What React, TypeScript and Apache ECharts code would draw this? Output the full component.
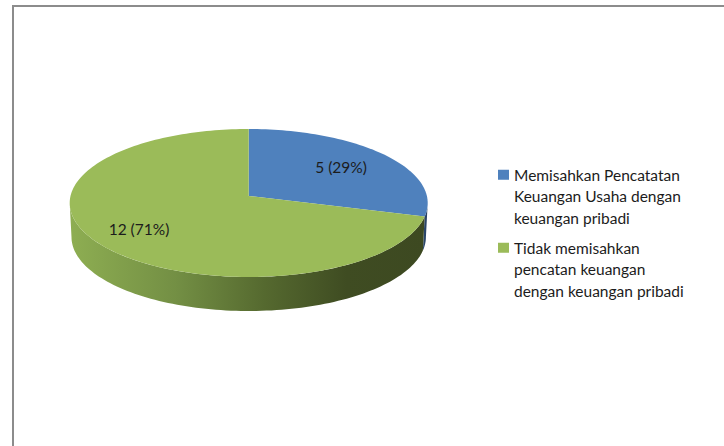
import React, { useEffect, useRef } from "react";
import * as echarts from "echarts";

const categories = [
  "Memisahkan Pencatatan\nKeuangan Usaha dengan\nkeuangan pribadi",
  "Tidak memisahkan\npencatan keuangan\ndengan keuangan pribadi",
];
const sliceValues = [5, 12];
const sliceLabels = ["5 (29%)", "12 (71%)"];
const topColors = ["#4f81bd", "#9bbb59"];

const FONT = "Lato";
const CX = 248.7;
const CY = 203;
const RX = 179;
const RY = 74;
const DEPTH = 34;
const TILT = -0.0946; // apex sits above the ellipse centre (perspective)
const labelAnchors = [
  { x: 341, y: 167 },
  { x: 139, y: 229 },
];
const wallFills = [
  {
    type: "linear", x: 0, y: 0, x2: 1, y2: 0,
    colorStops: [
      { offset: 0, color: "#2c4a70" },
      { offset: 1, color: "#263f60" },
    ],
  },
  {
    type: "linear", x: 0, y: 0, x2: 1, y2: 0,
    colorStops: [
      { offset: 0, color: "#8eae52" },
      { offset: 0.3, color: "#738f44" },
      { offset: 0.55, color: "#55692f" },
      { offset: 0.78, color: "#3f4c22" },
      { offset: 1, color: "#3d4921" },
    ],
  },
];

const total = sliceValues.reduce((a, b) => a + b, 0);
const sliceStart = (i: number) =>
  (sliceValues.slice(0, i).reduce((a, b) => a + b, 0) / total) * Math.PI * 2;

// Projects a point of the pie's rim (angle clockwise from 12 o'clock) onto the tilted plane.
function rim(theta: number, radiusScale = 1, drop = 0): number[] {
  const u = Math.sin(theta);
  const v = -Math.cos(theta);
  const w = 1 + TILT * v;
  const px = (u * Math.sqrt(1 - TILT * TILT)) / w;
  const py = (v + TILT) / w;
  return [CX + RX * radiusScale * px, CY + RY * py + drop];
}

function arcPoints(a0: number, a1: number, radiusScale = 1, drop = 0): number[][] {
  const n = Math.max(2, Math.ceil(((a1 - a0) / (Math.PI * 2)) * 240));
  const pts: number[][] = [];
  for (let i = 0; i <= n; i++) pts.push(rim(a0 + ((a1 - a0) * i) / n, radiusScale, drop));
  return pts;
}

const FRONT_START = Math.acos(TILT);
const FRONT_END = Math.PI * 2 - FRONT_START;

function renderSlice(i: number) {
  const a0 = sliceStart(i);
  const a1 = sliceStart(i + 1);
  const children: any[] = [];
  const w0 = Math.max(a0, FRONT_START);
  const w1 = Math.min(a1, FRONT_END);
  if (w1 > w0) {
    const top = arcPoints(w0, w1);
    const bottom = arcPoints(w0, w1, 0.99, DEPTH).reverse();
    children.push({
      type: "polygon",
      shape: { points: top.concat(bottom) },
      style: { fill: wallFills[i] },
    });
  }
  const apex = rim(0, 0);
  children.push({
    type: "polygon",
    shape: { points: [[CX, CY + RY * TILT], ...arcPoints(a0, a1)] },
    style: { fill: topColors[i] },
  });
  children.push({
    type: "text",
    z2: 10,
    style: {
      text: sliceLabels[i],
      x: labelAnchors[i].x,
      y: labelAnchors[i].y,
      align: "center",
      verticalAlign: "middle",
      font: `15.5px ${FONT}`,
      fill: "#1c1c1c",
    },
  });
  return { type: "group", children };
}

export default function App() {
  const ref = useRef<HTMLDivElement>(null);
  useEffect(() => {
    const chart = echarts.init(ref.current!, null, { renderer: "svg" });
    chart.setOption({
      animation: false,
      backgroundColor: "#ffffff",
      legend: {
        orient: "vertical",
        left: 493,
        top: 159,
        itemWidth: 11,
        itemHeight: 53,
        itemGap: 8.5,
        selectedMode: false,
        icon: "path://M0 0H11V10H0Z M0 53H11",
        data: categories,
        textStyle: { fontFamily: FONT, fontSize: 15.5, lineHeight: 21.5, color: "#1c1c1c" },
      },
      graphic: [
        { type: "line", shape: { x1: 13, y1: 6, x2: 724, y2: 6 }, style: { stroke: "#8c8c8c", lineWidth: 2 } },
        { type: "line", shape: { x1: 13, y1: 5, x2: 13, y2: 446 }, style: { stroke: "#8c8c8c", lineWidth: 2 } },
      ],
      series: categories.map((name, i) => ({
        type: "custom",
        name,
        coordinateSystem: "none",
        itemStyle: { color: topColors[i] },
        data: [sliceValues[i]],
        renderItem: () => renderSlice(i),
      })),
    });
    return () => chart.dispose();
  }, []);
  return (
    <div
      ref={ref}
      style={{ position: "absolute", left: 0, top: 0, width: 724, height: 446 }}
    />
  );
}
